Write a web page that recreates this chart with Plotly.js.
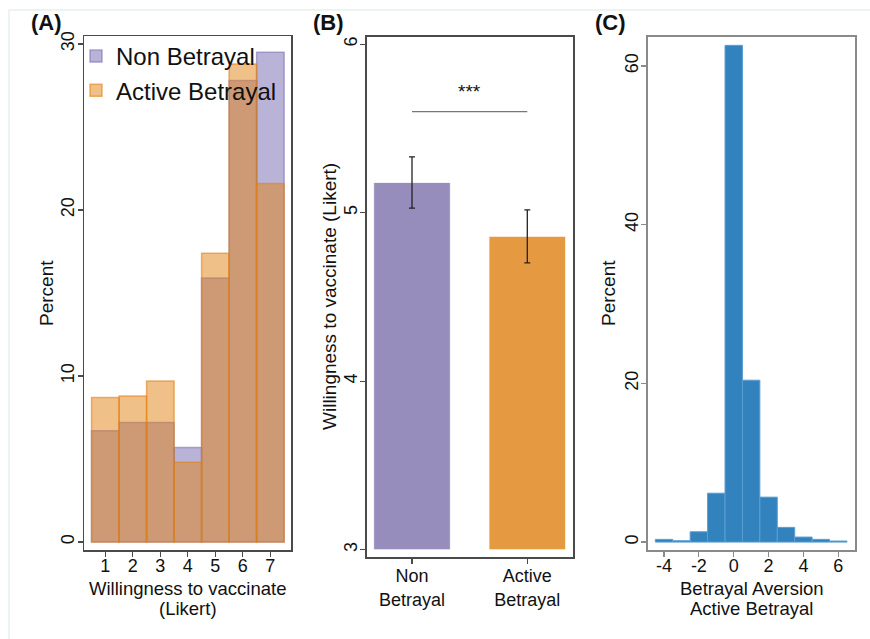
<!DOCTYPE html>
<html>
<head>
<meta charset="utf-8">
<script src="https://cdn.plot.ly/plotly-3.0.1.min.js"></script>
<style>html,body{margin:0;padding:0;background:#fff;}#chart{width:870px;height:639px;}</style>
</head>
<body>
<div id="chart"></div>
<script>
// Panel A: distribution of willingness to vaccinate (percent)
const likert = [1, 2, 3, 4, 5, 6, 7];
const pctNonBetrayal = [6.7, 7.2, 7.2, 5.7, 15.9, 27.8, 29.5];
const pctActiveBetrayal = [8.7, 8.8, 9.7, 4.8, 17.4, 28.8, 21.6];

// Panel B: mean willingness with confidence intervals
const conditions = ['Non Betrayal', 'Active Betrayal'];
const conditionTickLabels = ['Non<br>Betrayal', 'Active<br>Betrayal'];
const meanWillingness = [5.18, 4.86];
const ciHalfWidth = [0.152, 0.157];
const barBase = 3;
const sigLevel = 5.6;
const sigLabel = '***';

// Panel C: betrayal aversion distribution
const aversionBins = [-4, -3, -2, -1, 0, 1, 2, 3, 4, 5, 6];
const aversionPct = [0.34, 0.17, 1.3, 6.16, 62.6, 20.4, 5.66, 1.85, 0.63, 0.34, 0.13];
const aversionTickVals = [-4, -2, 0, 2, 4, 6];
const aversionTickText = ['-4', '-2', '0', '2', '4', '6'];

const FONT = 'Liberation Sans, Arial, sans-serif';
const W = 870, H = 639;
const px = v => v / W;
const py = v => (H - v) / H;

const traces = [
  {
    type: 'bar', name: 'Non Betrayal', x: likert, y: pctNonBetrayal, width: 1,
    marker: {color: 'rgba(117,104,177,0.5)', line: {color: 'rgba(117,104,177,0.55)', width: 1.5}},
    xaxis: 'x', yaxis: 'y', hoverinfo: 'x+y'
  },
  {
    type: 'bar', name: 'Active Betrayal', x: likert, y: pctActiveBetrayal, width: 1,
    marker: {color: 'rgba(226,130,20,0.5)', line: {color: 'rgba(226,130,20,0.6)', width: 1.5}},
    xaxis: 'x', yaxis: 'y', hoverinfo: 'x+y'
  },
  {
    type: 'bar', x: conditions, y: meanWillingness.map(m => m - barBase), base: barBase,
    width: 0.665, showlegend: false,
    marker: {color: ['#978dbc', '#e59a41'], line: {color: 'rgba(255,255,255,0.8)', width: 1}},
    xaxis: 'x2', yaxis: 'y2'
  },
  {
    type: 'scatter', mode: 'markers', x: conditions, y: meanWillingness, showlegend: false,
    marker: {size: 1, opacity: 0},
    error_y: {type: 'data', array: ciHalfWidth, visible: true, color: '#222', thickness: 1.3, width: 3},
    xaxis: 'x2', yaxis: 'y2'
  },
  {
    type: 'bar', x: aversionBins, y: aversionPct, width: 1, showlegend: false,
    marker: {color: '#3182bd', line: {color: '#5b9dd2', width: 1}},
    xaxis: 'x3', yaxis: 'y3'
  }
];

const axisCommon = {
  showline: true, mirror: true, showgrid: false, zeroline: false,
  ticks: 'outside', ticklen: 5, tickwidth: 1.2,
  tickfont: {family: FONT, size: 18, color: '#111'}, fixedrange: true
};
const darkFrame = {linecolor: '#4a4a4a', linewidth: 1.5, tickcolor: '#4a4a4a'};
const grayFrame = {linecolor: '#8a8a8a', linewidth: 1.8, tickcolor: '#8a8a8a'};
const yExtra = {tickangle: -90, ticklabelstandoff: -4};
const xExtra = {ticklabelstandoff: -6};

function ann(text, x, y, size, extra) {
  return Object.assign({
    text: text, xref: 'paper', yref: 'paper', x: px(x), y: py(y),
    xanchor: 'center', yanchor: 'middle', showarrow: false,
    font: {family: FONT, size: size, color: '#111'}
  }, extra || {});
}

const layout = {
  width: W, height: H,
  margin: {l: 0, r: 0, t: 0, b: 0},
  paper_bgcolor: '#fff', plot_bgcolor: '#fff',
  barmode: 'overlay',
  font: {family: FONT, color: '#111'},
  showlegend: true,
  legend: {
    x: px(76), y: py(34), xanchor: 'left', yanchor: 'top',
    bgcolor: 'rgba(0,0,0,0)', font: {family: FONT, size: 24, color: '#111'},
    tracegroupgap: 0
  },
  xaxis: Object.assign({}, axisCommon, darkFrame, xExtra, {
    domain: [px(84), px(291)], range: [0.225, 7.75], tickvals: likert, anchor: 'y'
  }),
  yaxis: Object.assign({}, axisCommon, darkFrame, yExtra, {
    domain: [py(550), py(36)], range: [-0.48, 30.48], tickvals: [0, 10, 20, 30], anchor: 'x'
  }),
  xaxis2: Object.assign({}, axisCommon, darkFrame, {ticklabelstandoff: -3}, {
    type: 'category', domain: [px(366.7), px(573.3)], range: [-0.393, 1.399],
    tickvals: conditions, ticktext: conditionTickLabels, anchor: 'y2'
  }),
  yaxis2: Object.assign({}, axisCommon, darkFrame, yExtra, {
    domain: [py(557), py(36.7)], range: [2.957, 6.045], tickvals: [3, 4, 5, 6], anchor: 'x2'
  }),
  xaxis3: Object.assign({}, axisCommon, grayFrame, xExtra, {
    domain: [px(648), px(855)], range: [-4.92, 6.96],
    tickvals: aversionTickVals, ticktext: aversionTickText, anchor: 'y3'
  }),
  yaxis3: Object.assign({}, axisCommon, grayFrame, yExtra, {
    domain: [py(550), py(36.7)], range: [-1.0, 63.69], tickvals: [0, 20, 40, 60], anchor: 'x3'
  }),
  shapes: [
    {type: 'line', xref: 'paper', yref: 'paper', x0: px(8), x1: 1, y0: py(10), y1: py(10),
     line: {color: '#ecf3f1', width: 2}},
    {type: 'line', xref: 'paper', yref: 'paper', x0: px(9), x1: px(9), y0: py(10), y1: 0,
     line: {color: '#ecf3f1', width: 2}},
    {type: 'line', xref: 'x2', yref: 'y2', x0: 0, x1: 1, y0: sigLevel, y1: sigLevel,
     line: {color: '#777', width: 1.2}}
  ],
  annotations: [
    ann('<b>(A)</b>', 46, 22, 22),
    ann('<b>(B)</b>', 328, 23, 22),
    ann('<b>(C)</b>', 610, 22, 22),
    {text: sigLabel, xref: 'x2', yref: 'y2', x: 0.5, y: 5.72, xanchor: 'center', yanchor: 'middle',
     showarrow: false, font: {family: FONT, size: 19, color: '#111'}},
    // y-axis titles
    ann('Percent', 46, 293, 19, {textangle: -90}),
    ann('Willingness to vaccinate (Likert)', 329, 297, 19, {textangle: -90}),
    ann('Percent', 608, 293, 19, {textangle: -90}),
    // x-axis titles (two lines each)
    ann('Willingness to vaccinate', 187.5, 588, 18.5),
    ann('(Likert)', 187.5, 608, 18.5),
    ann('Betrayal Aversion', 751.5, 588, 18.5),
    ann('Active Betrayal', 751.5, 608, 18.5)
  ]
};

Plotly.newPlot('chart', traces, layout, {staticPlot: true, displayModeBar: false});
</script>
</body>
</html>
